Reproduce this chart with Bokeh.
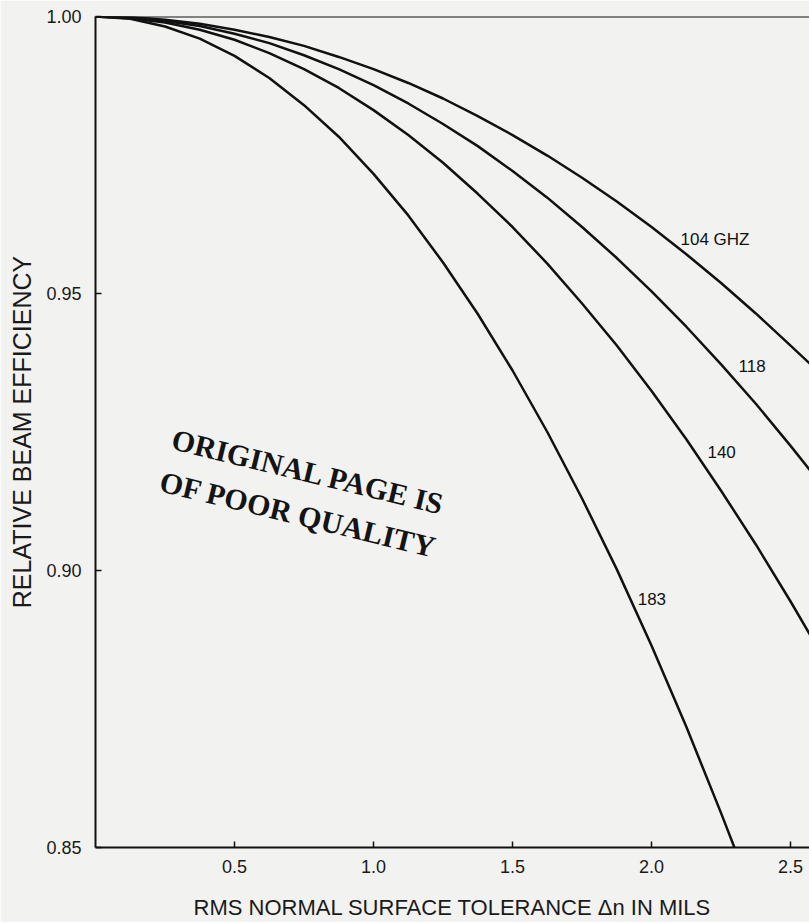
from bokeh.plotting import figure
from bokeh.models import Range1d, FixedTicker, Span
from bokeh.core.properties import value
from bokeh.embed import file_html
from bokeh.resources import INLINE

# ---- data ----
tol_183 = [0.0, 0.125, 0.25, 0.375, 0.5, 0.625, 0.75, 0.875, 1.0, 1.125, 1.25, 1.375,
           1.5, 1.625, 1.75, 1.875, 2.0, 2.125, 2.25, 2.298]
eff_183 = [1.0000, 0.9996, 0.9982, 0.9960, 0.9929, 0.9889, 0.9840, 0.9783, 0.9716, 0.9641, 0.9556, 0.9463,
           0.9361, 0.9250, 0.9130, 0.9002, 0.8864, 0.8718, 0.8562, 0.8500]

tol_140 = [0.0, 0.125, 0.25, 0.375, 0.5, 0.625, 0.75, 0.875, 1.0, 1.125, 1.25, 1.375,
           1.5, 1.625, 1.75, 1.875, 2.0, 2.125, 2.25, 2.375, 2.5, 2.57]
eff_140 = [1.0000, 0.9997, 0.9989, 0.9976, 0.9958, 0.9934, 0.9905, 0.9871, 0.9831, 0.9786, 0.9736, 0.9680,
           0.9620, 0.9554, 0.9482, 0.9406, 0.9324, 0.9237, 0.9144, 0.9047, 0.8944, 0.8884]

tol_118 = [0.0, 0.125, 0.25, 0.375, 0.5, 0.625, 0.75, 0.875, 1.0, 1.125, 1.25, 1.375,
           1.5, 1.625, 1.75, 1.875, 2.0, 2.125, 2.25, 2.375, 2.5, 2.57]
eff_118 = [1.0000, 0.9998, 0.9992, 0.9983, 0.9969, 0.9952, 0.9930, 0.9905, 0.9876, 0.9843, 0.9806, 0.9766,
           0.9721, 0.9673, 0.9620, 0.9564, 0.9504, 0.9440, 0.9372, 0.9301, 0.9225, 0.9181]

tol_104 = [0.0, 0.125, 0.25, 0.375, 0.5, 0.625, 0.75, 0.875, 1.0, 1.125, 1.25, 1.375,
           1.5, 1.625, 1.75, 1.875, 2.0, 2.125, 2.25, 2.375, 2.5, 2.57]
eff_104 = [1.0000, 0.9999, 0.9994, 0.9987, 0.9976, 0.9963, 0.9947, 0.9927, 0.9905, 0.9880, 0.9852, 0.9820,
           0.9786, 0.9749, 0.9709, 0.9666, 0.9620, 0.9571, 0.9519, 0.9464, 0.9406, 0.9373]

curve_labels = ["104 GHZ", "118", "140", "183"]
label_x = [2.104, 2.313, 2.201, 1.950]
label_y = [0.9598, 0.9369, 0.9214, 0.8949]

x_ticks = [0.5, 1.0, 1.5, 2.0, 2.5]
x_tick_labels = ["0.5", "1.0", "1.5", "2.0", "2.5"]
y_ticks = [0.85, 0.90, 0.95, 1.00]
y_tick_labels = ["0.85", "0.90", "0.95", "1.00"]

stamp_lines = ["ORIGINAL PAGE IS", "OF POOR QUALITY"]
stamp_x = [0.277, 0.234]
stamp_y = [0.9238, 0.9162]

BG = "#f2f2f1"
INK = "#111111"

p = figure(width=809, height=922, output_backend="svg", toolbar_location=None,
           x_range=Range1d(0, 2.568), y_range=Range1d(0.85, 1.0),
           min_border_left=95, min_border_right=0, min_border_top=16, min_border_bottom=74,
           background_fill_color=BG, border_fill_color=BG)
p.outline_line_color = None
p.grid.visible = False

for xs, ys in [(tol_104, eff_104), (tol_118, eff_118), (tol_140, eff_140), (tol_183, eff_183)]:
    p.line(xs, ys, line_color=INK, line_width=2.5, line_join="round")

# top frame line
p.add_layout(Span(location=1.0, dimension="width", line_color=INK, line_width=2))

p.text(x=label_x, y=label_y, text=curve_labels, text_font=value("Liberation Sans"),
       text_font_size="17px", text_color=INK, text_align="left", text_baseline="middle")

p.text(x=stamp_x, y=stamp_y, text=stamp_lines, angle=-0.238,
       text_font=value("Liberation Serif"), text_font_style="bold",
       text_font_size="30px", text_color="#141414", text_align="left", text_baseline="middle")

for ax in (p.xaxis[0], p.yaxis[0]):
    ax.axis_line_color = INK
    ax.axis_line_width = 2
    ax.major_tick_in = 6
    ax.major_tick_out = 0
    ax.major_tick_line_color = INK
    ax.major_tick_line_width = 1.5
    ax.minor_tick_line_color = None
    ax.major_label_text_font = "Liberation Sans"
    ax.major_label_text_font_size = "18px"
    ax.major_label_text_color = "#1a1a1a"
    ax.axis_label_text_font = "Liberation Sans"
    ax.axis_label_text_font_style = "normal"
    ax.axis_label_text_color = "#1a1a1a"

p.xaxis.axis_label_text_font_size = "22px"
p.yaxis.axis_label_text_font_size = "25px"

p.xaxis.ticker = FixedTicker(ticks=x_ticks)
p.xaxis.major_label_overrides = dict(zip(x_ticks, x_tick_labels))
p.yaxis.ticker = FixedTicker(ticks=y_ticks)
p.yaxis.major_label_overrides = dict(zip(y_ticks, y_tick_labels))

p.xaxis.axis_label = "RMS NORMAL SURFACE TOLERANCE \u0394n IN MILS"
p.yaxis.axis_label = "RELATIVE BEAM EFFICIENCY"
p.xaxis.major_label_standoff = 12
p.xaxis.axis_label_standoff = 19
p.yaxis.major_label_standoff = 14
p.yaxis.axis_label_standoff = 7

open("out.html", "w").write(file_html(p, INLINE))
